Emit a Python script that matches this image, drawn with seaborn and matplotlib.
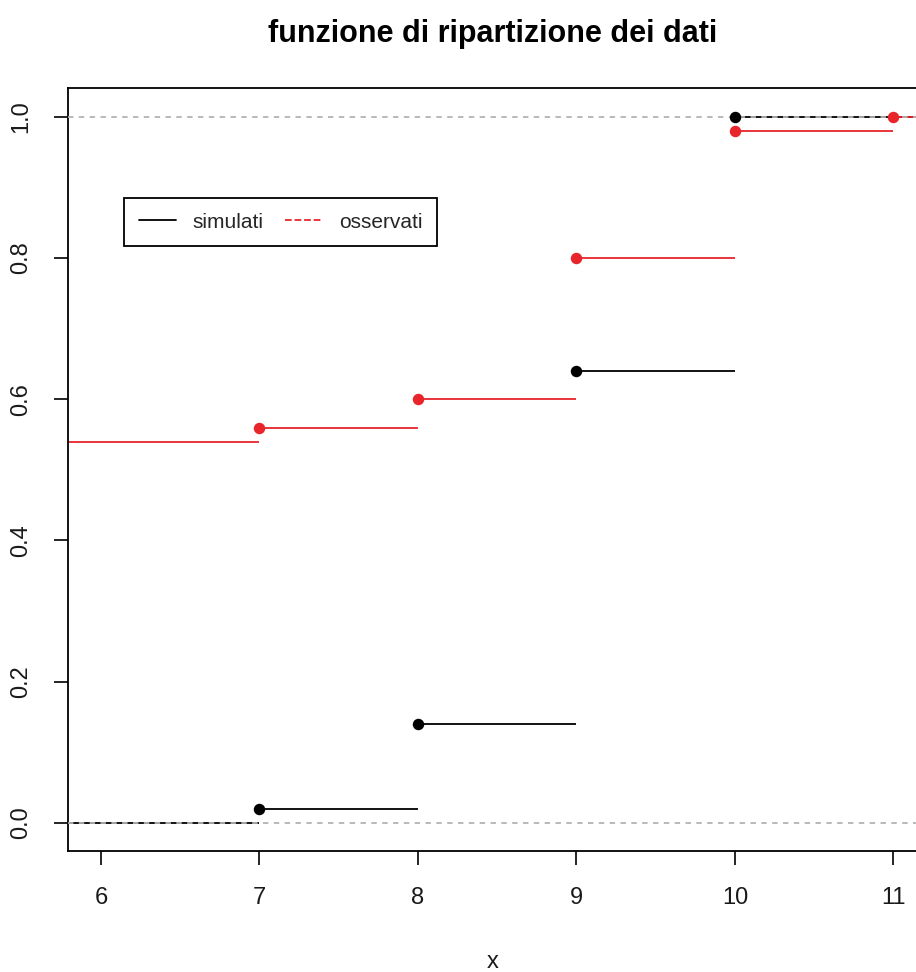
import matplotlib
matplotlib.use('Agg')
import matplotlib.pyplot as plt
from matplotlib.lines import Line2D
import seaborn as sns
import pandas as pd
import numpy as np

# step functions
sim_x = [7, 8, 9, 10]
sim_F = [0.02, 0.14, 0.64, 1.00]
obs_x = [7, 8, 9, 10, 11]
obs_F = [0.56, 0.60, 0.80, 0.98, 1.00]
obs_F_start = 0.54   # value of the observed ECDF left of x=7
sim_F_start = 0.0

title = "funzione di ripartizione dei dati"
labels = ["simulati", "osservati"]
RED = '#e8252b'

sns.set_theme(style="white")
plt.rcParams['font.family'] = ['Liberation Sans', 'DejaVu Sans']

fig = plt.figure(figsize=(9.16, 9.72), dpi=100)
ax = fig.add_axes([68 / 916, 1 - 851 / 972, 850 / 916, 763 / 972])
xlim = (5.792, 11.155)
ax.set_xlim(*xlim)
ax.set_ylim(-0.04, 1.041)

far_left, far_right = xlim[0] - 1, xlim[1] + 1


def draw_ecdf(knots, F, F0, color):
    starts = [far_left] + list(knots)
    ends = list(knots) + [far_right]
    levels = [F0] + list(F)
    ax.hlines(levels, starts, ends, colors=color, lw=1.3, zorder=2)
    df = pd.DataFrame({'x': knots, 'F': F})
    sns.scatterplot(data=df, x='x', y='F', ax=ax, color=color, s=68,
                    edgecolor=color, linewidth=0, zorder=4, legend=False)


draw_ecdf(sim_x, sim_F, sim_F_start, 'black')
draw_ecdf(obs_x, obs_F, obs_F_start, RED)

# gray reference lines at 0 and 1 (drawn over the step segments)
ax.axhline(0, color='#b3b3b3', lw=1.3, ls=(0, (3, 3)), zorder=3)
ax.axhline(1, color='#b3b3b3', lw=1.3, ls=(0, (3, 3)), zorder=3)

for s in ax.spines.values():
    s.set_color('black')
    s.set_linewidth(1.3)

ax.set_xticks([6, 7, 8, 9, 10, 11])
ax.set_yticks([0.0, 0.2, 0.4, 0.6, 0.8, 1.0])
ax.set_yticklabels([f"{v:.1f}" for v in [0.0, 0.2, 0.4, 0.6, 0.8, 1.0]],
                   rotation=90, va='center')
ax.tick_params(axis='both', direction='out', length=10, width=1.2,
               color='black', labelsize=17, labelcolor='#1a1a1a',
               left=True, bottom=True)
ax.tick_params(axis='x', pad=16)
ax.tick_params(axis='y', pad=16)

ax.set_xlabel("x", fontsize=17, labelpad=30, color='#1a1a1a')
ax.set_ylabel("")
ax.set_title(title, fontsize=22, fontweight='bold', pad=33, color='black')

handles = [Line2D([0], [0], color='black', lw=1.3),
           Line2D([0], [0], color=RED, lw=1.3, ls='--')]
leg = ax.legend(handles, labels, loc='upper left',
                bbox_to_anchor=((124 - 68) / 850, (851 - 198) / 763),
                borderaxespad=0, ncol=2, fontsize=15, frameon=True,
                fancybox=False, framealpha=1, edgecolor='black',
                handlelength=1.8, handletextpad=0.8, columnspacing=1.0,
                borderpad=0.7)
leg.get_frame().set_linewidth(1.3)

fig.savefig('out.png', dpi=100)
